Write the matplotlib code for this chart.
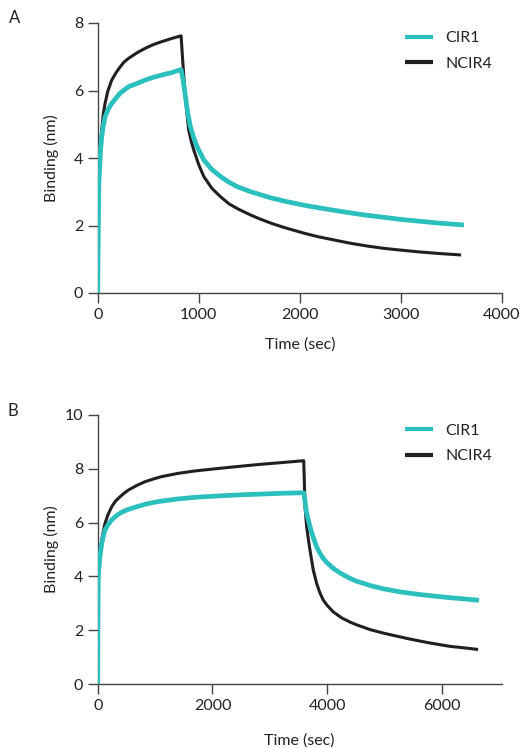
import numpy as np
import matplotlib
matplotlib.use('Agg')
import matplotlib.pyplot as plt

plt.rcParams['font.family'] = ['Lato', 'DejaVu Sans']
plt.rcParams['font.size'] = 11.5

cyan = '#2bbfbd'
dark = '#231f20'

# panel A
a_cir1_t = [0, 5, 12, 23, 30, 40, 55, 73, 100, 139, 180, 222, 260, 304, 390, 470, 550,
            636, 730, 825, 845, 868, 890, 917, 950, 984, 1050, 1130, 1216, 1300, 1382,
            1514, 1713, 1880, 2044, 2177, 2340, 2508, 2670, 2839, 3000, 3171, 3380, 3600]
a_cir1_v = [0, 1.6, 3.3, 3.94, 4.3, 4.63, 4.95, 5.22, 5.42, 5.62, 5.77, 5.92, 6.01, 6.11,
            6.21, 6.31, 6.39, 6.46, 6.53, 6.62, 6.3, 5.82, 5.35, 4.93, 4.6, 4.33, 3.94,
            3.66, 3.45, 3.28, 3.15, 3.0, 2.82, 2.7, 2.6, 2.53, 2.45, 2.37, 2.3, 2.24, 2.18,
            2.13, 2.07, 2.02]
a_ncir4_t = [0, 6, 20, 40, 55, 73, 100, 139, 180, 222, 260, 304, 390, 470, 550, 636, 730,
             825, 845, 870, 900, 925, 950, 1000, 1050, 1130, 1216, 1300, 1382, 1450, 1514,
             1600, 1713, 1845, 2044, 2177, 2340, 2508, 2670, 2839, 3000, 3171, 3380, 3580]
a_ncir4_v = [0, 3.55, 4.3, 4.83, 5.3, 5.62, 5.98, 6.31, 6.52, 6.7, 6.84, 6.95, 7.12, 7.25,
             7.36, 7.45, 7.54, 7.62, 6.7, 5.7, 4.83, 4.5, 4.24, 3.8, 3.45, 3.1, 2.85, 2.64,
             2.5, 2.4, 2.31, 2.2, 2.07, 1.94, 1.77, 1.67, 1.57, 1.47, 1.39, 1.32, 1.27,
             1.22, 1.17, 1.13]

# panel B
b_cir1_t = [0, 3, 10, 20, 39, 70, 100, 127, 180, 244, 310, 389, 460, 534, 680, 824, 1000,
            1115, 1400, 1695, 2000, 2275, 2560, 2857, 3200, 3590, 3615, 3641, 3670, 3699,
            3756, 3815, 3870, 3930, 4000, 4105, 4221, 4395, 4512, 4750, 4976, 5250, 5557,
            5850, 6137, 6400, 6603]
b_cir1_v = [0, 2.0, 3.87, 4.3, 4.73, 5.23, 5.5, 5.72, 5.92, 6.1, 6.23, 6.35, 6.43, 6.49,
            6.59, 6.68, 6.76, 6.8, 6.88, 6.94, 6.98, 7.01, 7.04, 7.06, 7.09, 7.11, 6.75,
            6.35, 6.1, 5.85, 5.45, 5.1, 4.87, 4.67, 4.5, 4.3, 4.13, 3.93, 3.82, 3.66, 3.54,
            3.43, 3.34, 3.27, 3.21, 3.16, 3.12]
b_ncir4_t = [0, 10, 25, 40, 70, 100, 127, 180, 244, 310, 389, 460, 534, 680, 824, 1000,
             1115, 1400, 1695, 2000, 2275, 2560, 2857, 3200, 3590, 3600, 3612, 3641, 3670,
             3699, 3756, 3815, 3870, 3930, 4000, 4105, 4250, 4400, 4512, 4750, 5000, 5441,
             5800, 6137, 6400, 6603]
b_ncir4_v = [0, 4.11, 4.8, 5.0, 5.35, 5.7, 5.97, 6.3, 6.59, 6.8, 6.96, 7.09, 7.21, 7.38,
             7.52, 7.64, 7.71, 7.83, 7.92, 7.99, 8.05, 8.11, 8.17, 8.23, 8.3, 7.6, 6.59,
             5.85, 5.4, 4.98, 4.24, 3.74, 3.4, 3.12, 2.92, 2.68, 2.46, 2.3, 2.2, 2.02, 1.88,
             1.67, 1.52, 1.4, 1.34, 1.29]

a_xticks = [0, 1000, 2000, 3000, 4000]
a_yticks = [0, 2, 4, 6, 8]
b_xticks = [0, 2000, 4000, 6000]
b_yticks = [0, 2, 4, 6, 8, 10]

W, H = 522, 748
fig = plt.figure(figsize=(W / 100, H / 100), dpi=100)

def px_axes(x0, y0, x1, y1):
    return fig.add_axes([x0 / W, 1 - y1 / H, (x1 - x0) / W, (y1 - y0) / H])

def style(ax, xlab_y):
    for s in ['top', 'right']:
        ax.spines[s].set_visible(False)
    for s in ['left', 'bottom']:
        ax.spines[s].set_color('#444444')
        ax.spines[s].set_linewidth(1.0)
    ax.tick_params(direction='out', length=7, width=1.0, color='#444444',
                   labelsize=11.5, pad=3.5, labelcolor='#222222')
    ax.set_xlabel('Time (sec)', fontsize=11.5, color='#222222')
    ax.set_ylabel('Binding (nm)', fontsize=11.5, color='#222222')
    ax.yaxis.set_label_coords(-0.096, 0.5)
    ax.xaxis.set_label_coords(0.5, xlab_y)

def draw(ax, c_t, c_v, n_t, n_v, legend_y):
    ax.plot(n_t, n_v, color=dark, lw=2.2, label='NCIR4', zorder=2, solid_joinstyle='round')
    ax.plot(c_t, c_v, color=cyan, lw=3.4, label='CIR1', zorder=3, solid_joinstyle='round')
    h, l = ax.get_legend_handles_labels()
    leg = ax.legend(h[::-1], l[::-1], frameon=False, loc='upper left',
                    bbox_to_anchor=(405 / W, 1 - legend_y / H),
                    bbox_transform=fig.transFigure, borderpad=0, borderaxespad=0,
                    handlelength=1.75, handletextpad=0.8, labelspacing=0.72, fontsize=11.5)
    for line in leg.get_lines():
        line.set_linewidth(3.0)
        line.set_solid_capstyle('butt')
    for t in leg.get_texts():
        t.set_color('#222222')

axA = px_axes(97.7, 23, 502, 293)
draw(axA, a_cir1_t, a_cir1_v, a_ncir4_t, a_ncir4_v, 31)
axA.set_xlim(0, 4000)
axA.set_ylim(0, 8)
axA.set_xticks(a_xticks)
axA.set_yticks(a_yticks)
style(axA, -0.166)

axB = px_axes(97.7, 415, 501.7, 684)
draw(axB, b_cir1_t, b_cir1_v, b_ncir4_t, b_ncir4_v, 423.5)
axB.set_xlim(0, 7040)
axB.set_ylim(0, 10)
axB.set_xticks(b_xticks)
axB.set_yticks(b_yticks)
style(axB, -0.184)

fig.text(15 / W, 1 - 18 / H, 'A', fontsize=12, ha='center', va='center', color='#222222')
fig.text(13 / W, 1 - 411 / H, 'B', fontsize=12, ha='center', va='center', color='#222222')

fig.savefig('out.png', dpi=100)
